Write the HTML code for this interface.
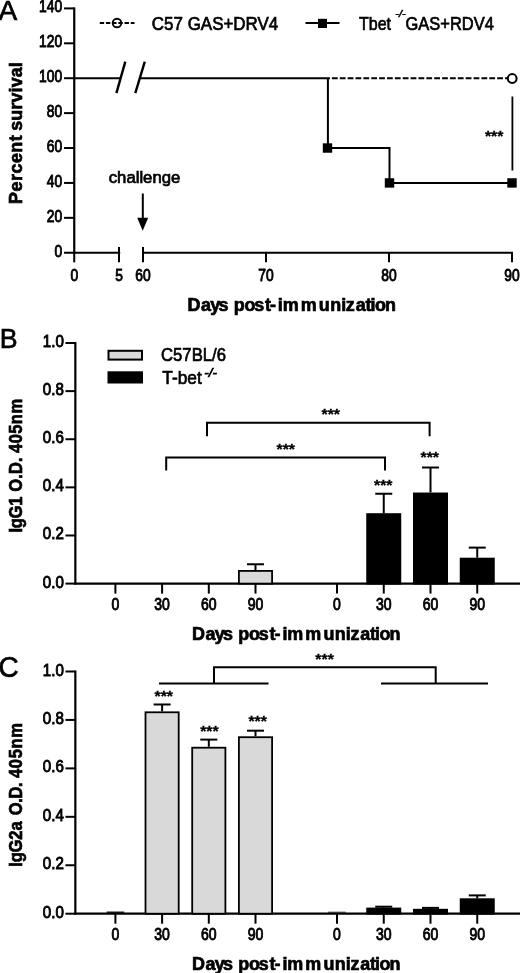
<!DOCTYPE html>
<html><head><meta charset="utf-8"><title>Figure</title>
<style>
html,body{margin:0;padding:0;background:#fff;}
svg{display:block;font-family:"Liberation Sans", sans-serif;fill:#000;}
</style></head><body>
<svg width="520" height="973" viewBox="0 0 520 973">
<rect x="0" y="0" width="520" height="973" fill="#fff" stroke="none"/>
<text x="-1.6" y="19.6" font-size="28" text-anchor="start" font-weight="normal" stroke="#000" stroke-width="0.7">A</text>
<line x1="74.25" y1="7.4" x2="74.25" y2="253.75" stroke="#000" stroke-width="2.2" stroke-linecap="butt"/>
<line x1="64.05" y1="252.75" x2="74.25" y2="252.75" stroke="#000" stroke-width="2" stroke-linecap="butt"/>
<text x="62.15" y="256.65" font-size="16.5" text-anchor="end" font-weight="normal" stroke="#000" stroke-width="0.9" textLength="7.7" lengthAdjust="spacingAndGlyphs">0</text>
<line x1="64.05" y1="217.84" x2="74.25" y2="217.84" stroke="#000" stroke-width="2" stroke-linecap="butt"/>
<text x="62.15" y="221.74" font-size="16.5" text-anchor="end" font-weight="normal" stroke="#000" stroke-width="0.9" textLength="15.4" lengthAdjust="spacingAndGlyphs">20</text>
<line x1="64.05" y1="182.94" x2="74.25" y2="182.94" stroke="#000" stroke-width="2" stroke-linecap="butt"/>
<text x="62.15" y="186.84" font-size="16.5" text-anchor="end" font-weight="normal" stroke="#000" stroke-width="0.9" textLength="15.4" lengthAdjust="spacingAndGlyphs">40</text>
<line x1="64.05" y1="148.03" x2="74.25" y2="148.03" stroke="#000" stroke-width="2" stroke-linecap="butt"/>
<text x="62.15" y="151.93" font-size="16.5" text-anchor="end" font-weight="normal" stroke="#000" stroke-width="0.9" textLength="15.4" lengthAdjust="spacingAndGlyphs">60</text>
<line x1="64.05" y1="113.12" x2="74.25" y2="113.12" stroke="#000" stroke-width="2" stroke-linecap="butt"/>
<text x="62.15" y="117.02" font-size="16.5" text-anchor="end" font-weight="normal" stroke="#000" stroke-width="0.9" textLength="15.4" lengthAdjust="spacingAndGlyphs">80</text>
<line x1="64.05" y1="78.21" x2="74.25" y2="78.21" stroke="#000" stroke-width="2" stroke-linecap="butt"/>
<text x="62.15" y="82.11" font-size="16.5" text-anchor="end" font-weight="normal" stroke="#000" stroke-width="0.9" textLength="23.1" lengthAdjust="spacingAndGlyphs">100</text>
<line x1="64.05" y1="43.31" x2="74.25" y2="43.31" stroke="#000" stroke-width="2" stroke-linecap="butt"/>
<text x="62.15" y="47.21" font-size="16.5" text-anchor="end" font-weight="normal" stroke="#000" stroke-width="0.9" textLength="23.1" lengthAdjust="spacingAndGlyphs">120</text>
<line x1="64.05" y1="8.40" x2="74.25" y2="8.40" stroke="#000" stroke-width="2" stroke-linecap="butt"/>
<text x="62.15" y="12.30" font-size="16.5" text-anchor="end" font-weight="normal" stroke="#000" stroke-width="0.9" textLength="23.1" lengthAdjust="spacingAndGlyphs">140</text>
<line x1="73.25" y1="252.75" x2="120.2" y2="252.75" stroke="#000" stroke-width="2.2" stroke-linecap="butt"/>
<line x1="142" y1="252.75" x2="513" y2="252.75" stroke="#000" stroke-width="2.2" stroke-linecap="butt"/>
<line x1="74.25" y1="252.75" x2="74.25" y2="262.35" stroke="#000" stroke-width="2" stroke-linecap="butt"/>
<text x="74.25" y="280.95" font-size="16.5" text-anchor="middle" font-weight="normal" stroke="#000" stroke-width="0.9" textLength="7.7" lengthAdjust="spacingAndGlyphs">0</text>
<line x1="119" y1="246.95" x2="119" y2="262.35" stroke="#000" stroke-width="2" stroke-linecap="butt"/>
<text x="119" y="280.95" font-size="16.5" text-anchor="middle" font-weight="normal" stroke="#000" stroke-width="0.9" textLength="7.7" lengthAdjust="spacingAndGlyphs">5</text>
<line x1="143" y1="246.95" x2="143" y2="262.35" stroke="#000" stroke-width="2" stroke-linecap="butt"/>
<text x="143" y="280.95" font-size="16.5" text-anchor="middle" font-weight="normal" stroke="#000" stroke-width="0.9" textLength="15.4" lengthAdjust="spacingAndGlyphs">60</text>
<line x1="266" y1="252.75" x2="266" y2="262.35" stroke="#000" stroke-width="2" stroke-linecap="butt"/>
<text x="266" y="280.95" font-size="16.5" text-anchor="middle" font-weight="normal" stroke="#000" stroke-width="0.9" textLength="15.4" lengthAdjust="spacingAndGlyphs">70</text>
<line x1="389" y1="252.75" x2="389" y2="262.35" stroke="#000" stroke-width="2" stroke-linecap="butt"/>
<text x="389" y="280.95" font-size="16.5" text-anchor="middle" font-weight="normal" stroke="#000" stroke-width="0.9" textLength="15.4" lengthAdjust="spacingAndGlyphs">80</text>
<line x1="512" y1="252.75" x2="512" y2="262.35" stroke="#000" stroke-width="2" stroke-linecap="butt"/>
<text x="512" y="280.95" font-size="16.5" text-anchor="middle" font-weight="normal" stroke="#000" stroke-width="0.9" textLength="15.4" lengthAdjust="spacingAndGlyphs">90</text>
<text transform="translate(0,310.5) scale(0.98,1)" x="191.34 205.09 214.52 222.98 236.16 238.45 249.38 259.43 270.36 275.57 283.53 288.50 306.78 325.34 336.93 348.20 352.93 362.96 372.89 378.04 382.58 392.87" font-size="18.3" font-weight="bold" stroke="#000" stroke-width="0.7">Days post-immunization</text>
<text transform="translate(21.8,0) rotate(-90) scale(0.94,1)" font-size="19" font-weight="bold" stroke="#000" stroke-width="0.7"><tspan x="-216.93" letter-spacing="0.56">Percent</tspan><tspan> </tspan><tspan x="-139.21" letter-spacing="0.18">survival</tspan></text>
<line x1="99.75" y1="23" x2="134.5" y2="23" stroke="#000" stroke-width="2" stroke-linecap="butt" stroke-dasharray="4.4 1.8"/>
<circle cx="117" cy="23" r="4.3" fill="none" stroke="#000" stroke-width="1.9"/>
<text x="151.8" y="29.7" font-size="19" text-anchor="start" font-weight="normal" stroke="#000" stroke-width="0.7" textLength="126.5" lengthAdjust="spacingAndGlyphs">C57 GAS+DRV4</text>
<line x1="305.5" y1="23" x2="339.5" y2="23" stroke="#000" stroke-width="2" stroke-linecap="butt"/>
<rect x="318" y="18.8" width="9" height="9.2" fill="#000" stroke="#000" stroke-width="0"/>
<text x="359" y="29.7" font-size="19" text-anchor="start" font-weight="normal" stroke="#000" stroke-width="0.7" textLength="32" lengthAdjust="spacingAndGlyphs">Tbet</text>
<text x="395.3" y="16.9" font-size="8.2" text-anchor="start" font-weight="normal" stroke="#000" stroke-width="0.5" textLength="10.3" lengthAdjust="spacingAndGlyphs" font-style="italic">-/-</text>
<text x="405.5" y="29.7" font-size="19" text-anchor="start" font-weight="normal" stroke="#000" stroke-width="0.7" textLength="88.3" lengthAdjust="spacingAndGlyphs">GAS+RDV4</text>
<line x1="74.25" y1="78.21" x2="120.5" y2="78.21" stroke="#000" stroke-width="2" stroke-linecap="butt"/>
<line x1="140.3" y1="78.21" x2="330" y2="78.21" stroke="#000" stroke-width="2" stroke-linecap="butt"/>
<line x1="331.9" y1="78.21" x2="508" y2="78.21" stroke="#000" stroke-width="2" stroke-linecap="butt" stroke-dasharray="5.8 2.07"/>
<circle cx="512.2" cy="78.51" r="4.4" fill="#fff" stroke="#000" stroke-width="2"/>
<polyline points="327.9,78.21 327.9,148.03 389.5,148.03 389.5,182.94 512,182.94" fill="none" stroke="#000" stroke-width="2"/>
<rect x="322.8" y="143.33" width="9.4" height="9.4" fill="#000" stroke="#000" stroke-width="0"/>
<rect x="384.8" y="178.24" width="9.4" height="9.4" fill="#000" stroke="#000" stroke-width="0"/>
<rect x="507.3" y="178.24" width="9.4" height="9.4" fill="#000" stroke="#000" stroke-width="0"/>
<line x1="116.4" y1="93.2" x2="125.3" y2="61.6" stroke="#000" stroke-width="2.4" stroke-linecap="butt"/>
<line x1="135.3" y1="93.2" x2="144.8" y2="61.6" stroke="#000" stroke-width="2.4" stroke-linecap="butt"/>
<line x1="512.4" y1="96.5" x2="512.4" y2="170.5" stroke="#000" stroke-width="1.8" stroke-linecap="butt"/>
<text x="494.2" y="141.0" font-size="15.5" text-anchor="middle" font-weight="bold" stroke="#000" stroke-width="0.3" textLength="18.5" lengthAdjust="spacingAndGlyphs">***</text>
<text x="144.5" y="182.7" font-size="16.7" text-anchor="middle" font-weight="normal" stroke="#000" stroke-width="0.7" textLength="71.5" lengthAdjust="spacingAndGlyphs">challenge</text>
<line x1="142.8" y1="193.5" x2="142.8" y2="220" stroke="#000" stroke-width="2" stroke-linecap="butt"/>
<polygon points="137.2,217.8 148.2,217.8 142.7,230.8" fill="#000"/>
<text x="-0.3" y="348" font-size="28.5" text-anchor="start" font-weight="normal" stroke="#000" stroke-width="0.7" textLength="17.8" lengthAdjust="spacingAndGlyphs">B</text>
<line x1="75.35" y1="342.0" x2="75.35" y2="584.6" stroke="#000" stroke-width="2.2" stroke-linecap="butt"/>
<line x1="65.45" y1="583.6" x2="75.35" y2="583.6" stroke="#000" stroke-width="2" stroke-linecap="butt"/>
<text x="63.85" y="587.6" font-size="16.5" text-anchor="end" font-weight="normal" stroke="#000" stroke-width="0.9" textLength="21" lengthAdjust="spacingAndGlyphs">0.0</text>
<line x1="65.45" y1="535.48" x2="75.35" y2="535.48" stroke="#000" stroke-width="2" stroke-linecap="butt"/>
<text x="63.85" y="539.48" font-size="16.5" text-anchor="end" font-weight="normal" stroke="#000" stroke-width="0.9" textLength="21" lengthAdjust="spacingAndGlyphs">0.2</text>
<line x1="65.45" y1="487.36" x2="75.35" y2="487.36" stroke="#000" stroke-width="2" stroke-linecap="butt"/>
<text x="63.85" y="491.36" font-size="16.5" text-anchor="end" font-weight="normal" stroke="#000" stroke-width="0.9" textLength="21" lengthAdjust="spacingAndGlyphs">0.4</text>
<line x1="65.45" y1="439.24" x2="75.35" y2="439.24" stroke="#000" stroke-width="2" stroke-linecap="butt"/>
<text x="63.85" y="443.24" font-size="16.5" text-anchor="end" font-weight="normal" stroke="#000" stroke-width="0.9" textLength="21" lengthAdjust="spacingAndGlyphs">0.6</text>
<line x1="65.45" y1="391.12" x2="75.35" y2="391.12" stroke="#000" stroke-width="2" stroke-linecap="butt"/>
<text x="63.85" y="395.12" font-size="16.5" text-anchor="end" font-weight="normal" stroke="#000" stroke-width="0.9" textLength="21" lengthAdjust="spacingAndGlyphs">0.8</text>
<line x1="65.45" y1="343.0" x2="75.35" y2="343.0" stroke="#000" stroke-width="2" stroke-linecap="butt"/>
<text x="63.85" y="347.0" font-size="16.5" text-anchor="end" font-weight="normal" stroke="#000" stroke-width="0.9" textLength="21" lengthAdjust="spacingAndGlyphs">1.0</text>
<line x1="74.35" y1="583.6" x2="520" y2="583.6" stroke="#000" stroke-width="2.2" stroke-linecap="butt"/>
<line x1="115.4" y1="583.6" x2="115.4" y2="593.6" stroke="#000" stroke-width="2" stroke-linecap="butt"/>
<text x="115.4" y="610.0" font-size="16.5" text-anchor="middle" font-weight="normal" stroke="#000" stroke-width="0.9" textLength="7.8" lengthAdjust="spacingAndGlyphs">0</text>
<line x1="162.1" y1="583.6" x2="162.1" y2="593.6" stroke="#000" stroke-width="2" stroke-linecap="butt"/>
<text x="162.1" y="610.0" font-size="16.5" text-anchor="middle" font-weight="normal" stroke="#000" stroke-width="0.9" textLength="15.6" lengthAdjust="spacingAndGlyphs">30</text>
<line x1="208.8" y1="583.6" x2="208.8" y2="593.6" stroke="#000" stroke-width="2" stroke-linecap="butt"/>
<text x="208.8" y="610.0" font-size="16.5" text-anchor="middle" font-weight="normal" stroke="#000" stroke-width="0.9" textLength="15.6" lengthAdjust="spacingAndGlyphs">60</text>
<line x1="255.5" y1="583.6" x2="255.5" y2="593.6" stroke="#000" stroke-width="2" stroke-linecap="butt"/>
<text x="255.5" y="610.0" font-size="16.5" text-anchor="middle" font-weight="normal" stroke="#000" stroke-width="0.9" textLength="15.6" lengthAdjust="spacingAndGlyphs">90</text>
<line x1="337" y1="583.6" x2="337" y2="593.6" stroke="#000" stroke-width="2" stroke-linecap="butt"/>
<text x="337" y="610.0" font-size="16.5" text-anchor="middle" font-weight="normal" stroke="#000" stroke-width="0.9" textLength="7.8" lengthAdjust="spacingAndGlyphs">0</text>
<line x1="383.75" y1="583.6" x2="383.75" y2="593.6" stroke="#000" stroke-width="2" stroke-linecap="butt"/>
<text x="383.75" y="610.0" font-size="16.5" text-anchor="middle" font-weight="normal" stroke="#000" stroke-width="0.9" textLength="15.6" lengthAdjust="spacingAndGlyphs">30</text>
<line x1="430.5" y1="583.6" x2="430.5" y2="593.6" stroke="#000" stroke-width="2" stroke-linecap="butt"/>
<text x="430.5" y="610.0" font-size="16.5" text-anchor="middle" font-weight="normal" stroke="#000" stroke-width="0.9" textLength="15.6" lengthAdjust="spacingAndGlyphs">60</text>
<line x1="477.25" y1="583.6" x2="477.25" y2="593.6" stroke="#000" stroke-width="2" stroke-linecap="butt"/>
<text x="477.25" y="610.0" font-size="16.5" text-anchor="middle" font-weight="normal" stroke="#000" stroke-width="0.9" textLength="15.6" lengthAdjust="spacingAndGlyphs">90</text>
<text transform="translate(0,640.3) scale(0.98,1)" x="196.01 209.76 219.19 227.65 240.83 243.12 254.05 264.10 275.03 280.24 288.20 293.17 311.45 330.01 341.60 352.87 357.60 367.63 377.56 382.71 387.25 397.54" font-size="18.3" font-weight="bold" stroke="#000" stroke-width="0.7">Days post-immunization</text>
<text transform="translate(21.8,0) rotate(-90) scale(0.87,1)" font-size="19" font-weight="bold" stroke="#000" stroke-width="0.7"><tspan x="-612.11" letter-spacing="-0.30">IgG1</tspan><tspan> </tspan><tspan x="-565.19" letter-spacing="0.16">O.D.</tspan><tspan> </tspan><tspan x="-520.69" letter-spacing="0.50">405nm</tspan></text>
<line x1="255.5" y1="564.26" x2="255.5" y2="570.01" stroke="#000" stroke-width="2" stroke-linecap="butt"/>
<line x1="247.0" y1="564.26" x2="264.0" y2="564.26" stroke="#000" stroke-width="2" stroke-linecap="butt"/>
<rect x="238.9" y="570.91" width="33.2" height="12.69" fill="#d9d9d9" stroke="#000" stroke-width="1.8"/>
<line x1="383.75" y1="493.74" x2="383.75" y2="513.20" stroke="#000" stroke-width="2" stroke-linecap="butt"/>
<line x1="375.25" y1="493.74" x2="392.25" y2="493.74" stroke="#000" stroke-width="2" stroke-linecap="butt"/>
<rect x="367.15" y="514.10" width="33.2" height="69.50" fill="#000" stroke="#000" stroke-width="1.8"/>
<line x1="430.5" y1="467.51" x2="430.5" y2="492.53" stroke="#000" stroke-width="2" stroke-linecap="butt"/>
<line x1="422.0" y1="467.51" x2="439.0" y2="467.51" stroke="#000" stroke-width="2" stroke-linecap="butt"/>
<rect x="413.9" y="493.43" width="33.2" height="90.17" fill="#000" stroke="#000" stroke-width="1.8"/>
<line x1="477.25" y1="547.61" x2="477.25" y2="557.71" stroke="#000" stroke-width="2" stroke-linecap="butt"/>
<line x1="468.75" y1="547.61" x2="485.75" y2="547.61" stroke="#000" stroke-width="2" stroke-linecap="butt"/>
<rect x="460.65" y="558.61" width="33.2" height="24.99" fill="#000" stroke="#000" stroke-width="1.8"/>
<rect x="108.5" y="350.8" width="33.5" height="8.8" fill="#d9d9d9" stroke="#000" stroke-width="2"/>
<text x="161" y="361.4" font-size="19" text-anchor="start" font-weight="normal" stroke="#000" stroke-width="0.7" textLength="65" lengthAdjust="spacingAndGlyphs">C57BL/6</text>
<rect x="107.5" y="371.3" width="35.5" height="12.2" fill="#000" stroke="#000" stroke-width="0"/>
<text x="162.3" y="384.3" font-size="19" text-anchor="start" font-weight="normal" stroke="#000" stroke-width="0.7" textLength="39.5" lengthAdjust="spacingAndGlyphs">T-bet</text>
<text x="204.3" y="377.3" font-size="13" text-anchor="start" font-weight="normal" stroke="#000" stroke-width="0.7" textLength="12.6" lengthAdjust="spacingAndGlyphs" font-style="italic">-/-</text>
<polyline points="207,436.3 207,422.8 429.6,422.8 429.6,436.3" fill="none" stroke="#000" stroke-width="2"/>
<text x="330.8" y="419.0" font-size="15.5" text-anchor="middle" font-weight="bold" stroke="#000" stroke-width="0.3" textLength="18.5" lengthAdjust="spacingAndGlyphs">***</text>
<polyline points="166.2,470.5 166.2,457.5 385,457.5 385,470.5" fill="none" stroke="#000" stroke-width="2"/>
<text x="285.8" y="454.0" font-size="15.5" text-anchor="middle" font-weight="bold" stroke="#000" stroke-width="0.3" textLength="18.5" lengthAdjust="spacingAndGlyphs">***</text>
<text x="383.3" y="490.0" font-size="15.5" text-anchor="middle" font-weight="bold" stroke="#000" stroke-width="0.3" textLength="18.5" lengthAdjust="spacingAndGlyphs">***</text>
<text x="429.8" y="461.8" font-size="15.5" text-anchor="middle" font-weight="bold" stroke="#000" stroke-width="0.3" textLength="18.5" lengthAdjust="spacingAndGlyphs">***</text>
<text x="-1.5" y="676.6" font-size="30" text-anchor="start" font-weight="normal" stroke="#000" stroke-width="0.7" textLength="20.2" lengthAdjust="spacingAndGlyphs">C</text>
<line x1="75.35" y1="670.5" x2="75.35" y2="914.7" stroke="#000" stroke-width="2.2" stroke-linecap="butt"/>
<line x1="65.45" y1="913.7" x2="75.35" y2="913.7" stroke="#000" stroke-width="2" stroke-linecap="butt"/>
<text x="63.85" y="917.7" font-size="16.5" text-anchor="end" font-weight="normal" stroke="#000" stroke-width="0.9" textLength="21" lengthAdjust="spacingAndGlyphs">0.0</text>
<line x1="65.45" y1="865.26" x2="75.35" y2="865.26" stroke="#000" stroke-width="2" stroke-linecap="butt"/>
<text x="63.85" y="869.26" font-size="16.5" text-anchor="end" font-weight="normal" stroke="#000" stroke-width="0.9" textLength="21" lengthAdjust="spacingAndGlyphs">0.2</text>
<line x1="65.45" y1="816.82" x2="75.35" y2="816.82" stroke="#000" stroke-width="2" stroke-linecap="butt"/>
<text x="63.85" y="820.82" font-size="16.5" text-anchor="end" font-weight="normal" stroke="#000" stroke-width="0.9" textLength="21" lengthAdjust="spacingAndGlyphs">0.4</text>
<line x1="65.45" y1="768.38" x2="75.35" y2="768.38" stroke="#000" stroke-width="2" stroke-linecap="butt"/>
<text x="63.85" y="772.38" font-size="16.5" text-anchor="end" font-weight="normal" stroke="#000" stroke-width="0.9" textLength="21" lengthAdjust="spacingAndGlyphs">0.6</text>
<line x1="65.45" y1="719.94" x2="75.35" y2="719.94" stroke="#000" stroke-width="2" stroke-linecap="butt"/>
<text x="63.85" y="723.94" font-size="16.5" text-anchor="end" font-weight="normal" stroke="#000" stroke-width="0.9" textLength="21" lengthAdjust="spacingAndGlyphs">0.8</text>
<line x1="65.45" y1="671.5" x2="75.35" y2="671.5" stroke="#000" stroke-width="2" stroke-linecap="butt"/>
<text x="63.85" y="675.5" font-size="16.5" text-anchor="end" font-weight="normal" stroke="#000" stroke-width="0.9" textLength="21" lengthAdjust="spacingAndGlyphs">1.0</text>
<line x1="74.35" y1="913.7" x2="520" y2="913.7" stroke="#000" stroke-width="2.2" stroke-linecap="butt"/>
<line x1="115.4" y1="913.7" x2="115.4" y2="923.7" stroke="#000" stroke-width="2" stroke-linecap="butt"/>
<text x="115.4" y="939.6" font-size="16.5" text-anchor="middle" font-weight="normal" stroke="#000" stroke-width="0.9" textLength="7.8" lengthAdjust="spacingAndGlyphs">0</text>
<line x1="162.1" y1="913.7" x2="162.1" y2="923.7" stroke="#000" stroke-width="2" stroke-linecap="butt"/>
<text x="162.1" y="939.6" font-size="16.5" text-anchor="middle" font-weight="normal" stroke="#000" stroke-width="0.9" textLength="15.6" lengthAdjust="spacingAndGlyphs">30</text>
<line x1="208.8" y1="913.7" x2="208.8" y2="923.7" stroke="#000" stroke-width="2" stroke-linecap="butt"/>
<text x="208.8" y="939.6" font-size="16.5" text-anchor="middle" font-weight="normal" stroke="#000" stroke-width="0.9" textLength="15.6" lengthAdjust="spacingAndGlyphs">60</text>
<line x1="255.5" y1="913.7" x2="255.5" y2="923.7" stroke="#000" stroke-width="2" stroke-linecap="butt"/>
<text x="255.5" y="939.6" font-size="16.5" text-anchor="middle" font-weight="normal" stroke="#000" stroke-width="0.9" textLength="15.6" lengthAdjust="spacingAndGlyphs">90</text>
<line x1="337" y1="913.7" x2="337" y2="923.7" stroke="#000" stroke-width="2" stroke-linecap="butt"/>
<text x="337" y="939.6" font-size="16.5" text-anchor="middle" font-weight="normal" stroke="#000" stroke-width="0.9" textLength="7.8" lengthAdjust="spacingAndGlyphs">0</text>
<line x1="383.75" y1="913.7" x2="383.75" y2="923.7" stroke="#000" stroke-width="2" stroke-linecap="butt"/>
<text x="383.75" y="939.6" font-size="16.5" text-anchor="middle" font-weight="normal" stroke="#000" stroke-width="0.9" textLength="15.6" lengthAdjust="spacingAndGlyphs">30</text>
<line x1="430.5" y1="913.7" x2="430.5" y2="923.7" stroke="#000" stroke-width="2" stroke-linecap="butt"/>
<text x="430.5" y="939.6" font-size="16.5" text-anchor="middle" font-weight="normal" stroke="#000" stroke-width="0.9" textLength="15.6" lengthAdjust="spacingAndGlyphs">60</text>
<line x1="477.25" y1="913.7" x2="477.25" y2="923.7" stroke="#000" stroke-width="2" stroke-linecap="butt"/>
<text x="477.25" y="939.6" font-size="16.5" text-anchor="middle" font-weight="normal" stroke="#000" stroke-width="0.9" textLength="15.6" lengthAdjust="spacingAndGlyphs">90</text>
<text transform="translate(0,970.3) scale(0.98,1)" x="196.01 209.76 219.19 227.65 240.83 243.12 254.05 264.10 275.03 280.24 288.20 293.17 311.45 330.01 341.60 352.87 357.60 367.63 377.56 382.71 387.25 397.54" font-size="18.3" font-weight="bold" stroke="#000" stroke-width="0.7">Days post-immunization</text>
<text transform="translate(21.8,0) rotate(-90) scale(0.87,1)" font-size="19" font-weight="bold" stroke="#000" stroke-width="0.7"><tspan x="-996.36" letter-spacing="-0.14">IgG2a</tspan><tspan> </tspan><tspan x="-937.15" letter-spacing="-0.38">O.D.</tspan><tspan> </tspan><tspan x="-894.25" letter-spacing="0.76">405nm</tspan></text>
<line x1="106.60" y1="912.2" x2="124.2" y2="912.2" stroke="#000" stroke-width="1.3" stroke-linecap="butt"/>
<line x1="162.1" y1="704.49" x2="162.1" y2="711.39" stroke="#000" stroke-width="2" stroke-linecap="butt"/>
<line x1="153.6" y1="704.49" x2="170.6" y2="704.49" stroke="#000" stroke-width="2" stroke-linecap="butt"/>
<rect x="145.5" y="712.29" width="33.2" height="201.41" fill="#d9d9d9" stroke="#000" stroke-width="1.8"/>
<line x1="208.8" y1="739.61" x2="208.8" y2="746.80" stroke="#000" stroke-width="2" stroke-linecap="butt"/>
<line x1="200.3" y1="739.61" x2="217.3" y2="739.61" stroke="#000" stroke-width="2" stroke-linecap="butt"/>
<rect x="192.20" y="747.70" width="33.2" height="166.00" fill="#d9d9d9" stroke="#000" stroke-width="1.8"/>
<line x1="255.5" y1="730.69" x2="255.5" y2="736.31" stroke="#000" stroke-width="2" stroke-linecap="butt"/>
<line x1="247.0" y1="730.69" x2="264.0" y2="730.69" stroke="#000" stroke-width="2" stroke-linecap="butt"/>
<rect x="238.9" y="737.21" width="33.2" height="176.49" fill="#d9d9d9" stroke="#000" stroke-width="1.8"/>
<line x1="328.2" y1="912.2" x2="345.8" y2="912.2" stroke="#000" stroke-width="0.8" stroke-linecap="butt"/>
<line x1="383.75" y1="906.70" x2="383.75" y2="907.60" stroke="#000" stroke-width="2" stroke-linecap="butt"/>
<line x1="375.25" y1="906.70" x2="392.25" y2="906.70" stroke="#000" stroke-width="2" stroke-linecap="butt"/>
<rect x="367.15" y="908.50" width="33.2" height="5.20" fill="#000" stroke="#000" stroke-width="1.8"/>
<line x1="430.5" y1="907.89" x2="430.5" y2="908.81" stroke="#000" stroke-width="2" stroke-linecap="butt"/>
<line x1="422.0" y1="907.89" x2="439.0" y2="907.89" stroke="#000" stroke-width="2" stroke-linecap="butt"/>
<rect x="413.9" y="909.71" width="33.2" height="3.99" fill="#000" stroke="#000" stroke-width="1.8"/>
<line x1="477.25" y1="895.39" x2="477.25" y2="898.30" stroke="#000" stroke-width="2" stroke-linecap="butt"/>
<line x1="468.75" y1="895.39" x2="485.75" y2="895.39" stroke="#000" stroke-width="2" stroke-linecap="butt"/>
<rect x="460.65" y="899.20" width="33.2" height="14.50" fill="#000" stroke="#000" stroke-width="1.8"/>
<line x1="159" y1="683.5" x2="268.5" y2="683.5" stroke="#000" stroke-width="2" stroke-linecap="butt"/>
<line x1="381" y1="683.5" x2="488" y2="683.5" stroke="#000" stroke-width="2" stroke-linecap="butt"/>
<polyline points="214,683.5 214,667.3 435.7,667.3 435.7,683.5" fill="none" stroke="#000" stroke-width="2"/>
<text x="324.6" y="663.5" font-size="15.5" text-anchor="middle" font-weight="bold" stroke="#000" stroke-width="0.3" textLength="18.5" lengthAdjust="spacingAndGlyphs">***</text>
<text x="163.8" y="700.5" font-size="15.5" text-anchor="middle" font-weight="bold" stroke="#000" stroke-width="0.3" textLength="18.5" lengthAdjust="spacingAndGlyphs">***</text>
<text x="209.4" y="736.2" font-size="15.5" text-anchor="middle" font-weight="bold" stroke="#000" stroke-width="0.3" textLength="18.5" lengthAdjust="spacingAndGlyphs">***</text>
<text x="257.7" y="726.2" font-size="15.5" text-anchor="middle" font-weight="bold" stroke="#000" stroke-width="0.3" textLength="18.5" lengthAdjust="spacingAndGlyphs">***</text>
</svg>
</body></html>
